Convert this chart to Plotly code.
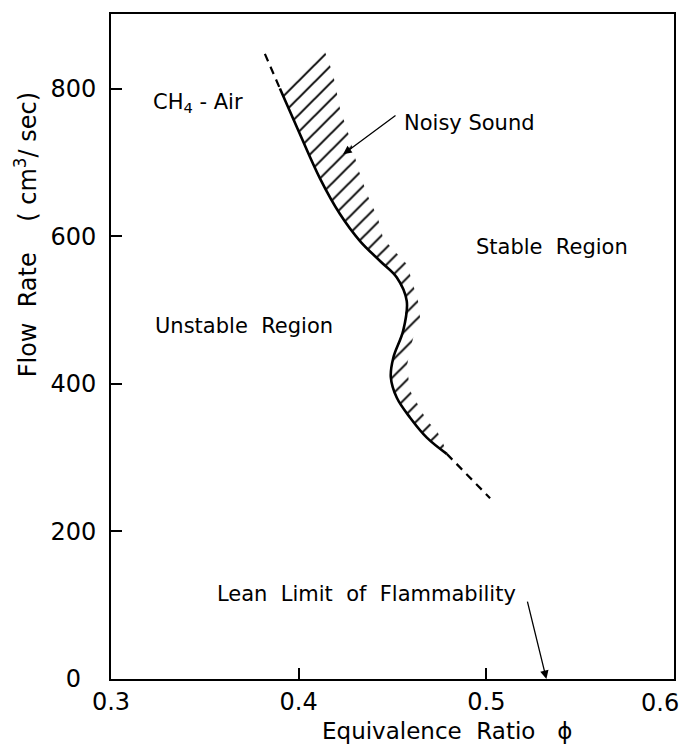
import plotly.graph_objects as go

# ---- data ----
# boundary between stable / unstable regions (solid part)
curve_phi = [0.390, 0.4007, 0.4114, 0.4220, 0.4328, 0.4435, 0.4523, 0.4576,
             0.4557, 0.4504, 0.4491, 0.4523, 0.4594, 0.4683, 0.4789]
curve_q = [800, 738, 678, 630, 593, 566, 544, 512,
           472, 435, 409, 381, 354, 327, 305]
# dashed extrapolations
dash_top_phi = [0.382, 0.390]
dash_top_q = [847, 800]
dash_bot_phi = [0.4789, 0.502]
dash_bot_q = [305, 245]
# outer edge of the hatched "noisy sound" band (top to bottom)
noisy_phi = [0.4140, 0.4183, 0.4220, 0.4274, 0.4316, 0.4364, 0.4423, 0.4450,
             0.4503, 0.4577, 0.4609, 0.4636, 0.4647, 0.4620, 0.4593, 0.4577,
             0.4593, 0.4631, 0.4684, 0.4737, 0.4769]
noisy_q = [850, 820, 773, 732, 692, 657, 624, 597,
           582, 562, 535, 512, 489, 472, 445, 424,
           391, 373, 350, 336, 320]
lean_limit_phi = 0.532

x_ticks = [0.3, 0.4, 0.5, 0.6]
x_ticktext = ["0.3", "0.4", "0.5", "0.6"]
y_ticks = [0, 200, 400, 600, 800]
y_ticktext = ["0\u00a0\u00a0", "200", "400", "600", "800"]

FONT = "DejaVu Sans"

fig = go.Figure()

# hatched band
fig.add_trace(go.Scatter(
    x=curve_phi + noisy_phi[::-1],
    y=curve_q + noisy_q[::-1],
    mode="lines", fill="toself",
    line=dict(width=0, color="rgba(0,0,0,0)"),
    fillcolor="rgba(0,0,0,0)",
    fillpattern=dict(shape="/", size=12, solidity=0.16,
                     fgcolor="black", bgcolor="rgba(0,0,0,0)", fgopacity=1),
    hoverinfo="skip", showlegend=False))

fig.add_trace(go.Scatter(x=curve_phi, y=curve_q, mode="lines",
                         line=dict(color="black", width=2.6, shape="spline", smoothing=1.0),
                         showlegend=False))
fig.add_trace(go.Scatter(x=dash_top_phi, y=dash_top_q, mode="lines",
                         line=dict(color="black", width=2.2, dash="8px,6px"),
                         showlegend=False))
fig.add_trace(go.Scatter(x=dash_bot_phi, y=dash_bot_q, mode="lines",
                         line=dict(color="black", width=2.2, dash="8px,6px"),
                         showlegend=False))

txt = dict(family=FONT, size=21, color="black")
tickfont = dict(family=FONT, size=24, color="black")
ann = [
    dict(x=0.3464, y=780, text="CH<sub>4</sub> - Air", showarrow=False, font=txt),
    dict(x=0.4908, y=753, text="Noisy Sound", showarrow=False, font=txt),
    dict(x=0.535, y=585, text="Stable  Region", showarrow=False, font=txt),
    dict(x=0.3709, y=478, text="Unstable  Region", showarrow=False, font=txt),
    dict(x=0.4364, y=115, text="Lean  Limit  of  Flammability", showarrow=False, font=txt),
    # arrows
    dict(x=0.4237, y=711, ax=0.4524, ay=765, axref="x", ayref="y", text="",
         showarrow=True, arrowhead=2, arrowsize=1.3, arrowwidth=1.3, arrowcolor="black"),
    dict(x=lean_limit_phi, y=0, ax=0.5217, ay=107, axref="x", ayref="y", text="",
         showarrow=True, arrowhead=2, arrowsize=1.3, arrowwidth=1.3, arrowcolor="black",
         standoff=0),
    # last x tick label (kept inside the page)
    dict(x=x_ticks[-1], y=0, xref="x", yref="y", text=x_ticktext[-1], showarrow=False,
         xanchor="right", yanchor="top", xshift=6, yshift=-9, borderpad=0, font=tickfont),
    # axis titles
    dict(xref="paper", yref="paper", x=(447 - 111) / 563, y=-(731 - 679) / 667,
         xanchor="center", yanchor="middle",
         text="Equivalence  Ratio   \u03d5", showarrow=False,
         font=dict(family=FONT, size=23, color="black")),
    dict(xref="paper", yref="paper", x=-(111 - 26) / 563, y=(679 - 234) / 667,
         xanchor="center", yanchor="middle",
         text="Flow  Rate    ( cm<sup>3</sup>/ sec)", showarrow=False, textangle=-90,
         font=dict(family=FONT, size=24, color="black")),
]

# page body has an 8px default margin; figure is sized/margined to compensate
fig.update_layout(
    width=680, height=741,
    margin=dict(l=103, r=14, t=4, b=70),
    paper_bgcolor="white", plot_bgcolor="white",
    annotations=ann,
    showlegend=False,
)
axis_common = dict(showgrid=False, zeroline=False, showline=True, linecolor="black",
                   linewidth=2, mirror=True, ticks="inside", ticklen=11, tickwidth=1.5,
                   tickcolor="black", tickfont=tickfont)
fig.update_xaxes(range=[0.3, 0.6], tickvals=x_ticks, ticktext=x_ticktext[:-1] + [""],
                 **axis_common)
fig.update_yaxes(range=[0, 901], tickvals=y_ticks, ticktext=y_ticktext,
                 ticklabelstandoff=8, **axis_common)

fig.write_html("out.html")
